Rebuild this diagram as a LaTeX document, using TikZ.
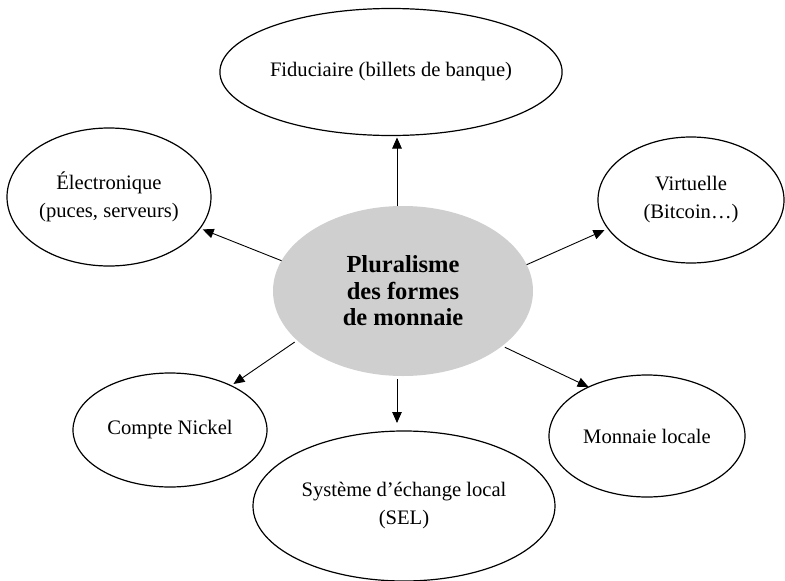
\documentclass[tikz,border=0pt]{standalone}
\usepackage{fontspec}
\setmainfont{Liberation Serif}
\usetikzlibrary{shapes.geometric,arrows.meta}
\definecolor{centgray}{RGB}{207,207,207}
\begin{document}
\begin{tikzpicture}[x=1pt,y=-1pt,
  oval/.style={ellipse,draw,line width=1.2pt,inner sep=0pt,outer sep=0pt,align=center,
    font=\fontsize{20.6}{28}\selectfont},
  centre/.style={ellipse,fill=centgray,draw=none,inner sep=0pt,outer sep=0pt,align=center,
    font=\fontsize{24.5}{26.5}\selectfont\bfseries},
  arr/.style={line width=0.9pt,-{Triangle[length=11pt,width=9.5pt]}}]
\useasboundingbox (0,0) rectangle (785,581);
\fill[white] (0,0) rectangle (785,581);
\node[centre,minimum width=260pt,minimum height=170pt] (cen) at (403,291) {Pluralisme\\des formes\\de monnaie};
\node[oval,minimum width=308pt,minimum height=127pt] (fid) at (391,72) {Fiduciaire (billets de banque)};
\node[oval,minimum width=204pt,minimum height=138pt] (ele) at (109,197) {Électronique\\(puces, serveurs)};
\node[oval,minimum width=186pt,minimum height=126pt] (vir) at (691,200) {Virtuelle\\(Bitcoin…)};
\node[oval,minimum width=194pt,minimum height=114pt] (cn) at (170,430) {Compte Nickel};
\node[oval,minimum width=302pt,minimum height=150pt] (sel) at (404,506) {Système d’échange local\\(SEL)};
\node[oval,minimum width=196pt,minimum height=122pt] (ml) at (647,436) {Monnaie locale};
\draw[arr,shorten >=2pt] ([xshift=-6pt]cen.north) -- ([xshift=-6pt]cen.north |- fid.south);
\draw[arr,shorten >=3pt] (cen.166.7) -- (ele.341.6);
\draw[arr,shorten >=4pt] (cen.12.7) -- (vir.199.2);
\draw[arr,shorten <=3pt] (cen.331.7) -- (ml.140.8);
\draw[arr,shorten <=3pt,shorten >=3pt] (cen.205.3) -- (cn.36.7);
\draw[arr,shorten <=3pt,shorten >=8pt] ([xshift=-6pt]cen.south) -- ([xshift=-6pt]cen.south |- sel.north);
\end{tikzpicture}
\end{document}
